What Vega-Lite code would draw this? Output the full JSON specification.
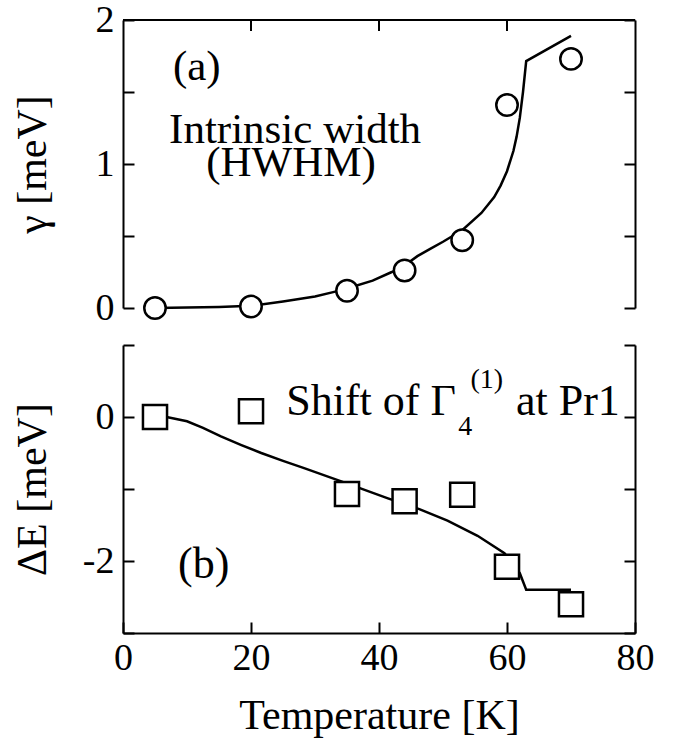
{
  "$schema": "https://vega.github.io/schema/vega-lite/v6.json",
  "padding": {"left": 10, "top": 1, "right": 5, "bottom": 5},
  "background": "white",
  "spacing": 37,
  "bounds": "flush",
  "config": {
    "view": {"stroke": null},
    "font": "Liberation Serif",
    "axis": {
      "grid": false,
      "domainColor": "black",
      "domainWidth": 2,
      "tickColor": "black",
      "tickWidth": 2,
      "tickSize": -11,
      "labelFont": "Liberation Serif",
      "labelFontSize": 38,
      "labelColor": "black",
      "labelFlush": false,
      "labelOverlap": false,
      "titleFont": "Liberation Serif",
      "titleFontSize": 42,
      "titleFontWeight": "normal",
      "titleColor": "black"
    }
  },
  "datasets": {
    "gammaFit": [
      {"T": 5, "v": 0.0},
      {"T": 10, "v": 0.003},
      {"T": 15, "v": 0.007},
      {"T": 20, "v": 0.015},
      {"T": 25, "v": 0.045},
      {"T": 30, "v": 0.08},
      {"T": 33, "v": 0.112},
      {"T": 35, "v": 0.135},
      {"T": 39, "v": 0.19},
      {"T": 42, "v": 0.25},
      {"T": 44, "v": 0.295},
      {"T": 46, "v": 0.36},
      {"T": 48, "v": 0.41},
      {"T": 50, "v": 0.46},
      {"T": 53, "v": 0.54},
      {"T": 56, "v": 0.66},
      {"T": 58, "v": 0.77},
      {"T": 59, "v": 0.85},
      {"T": 60, "v": 0.95},
      {"T": 61, "v": 1.09},
      {"T": 61.5, "v": 1.19},
      {"T": 62, "v": 1.32},
      {"T": 62.5, "v": 1.5},
      {"T": 63, "v": 1.715},
      {"T": 70, "v": 1.89}
    ],
    "gammaPts": [
      {"T": 5, "v": 0.0},
      {"T": 20, "v": 0.01},
      {"T": 35, "v": 0.12},
      {"T": 44, "v": 0.26},
      {"T": 53, "v": 0.47},
      {"T": 60, "v": 1.41},
      {"T": 70, "v": 1.73}
    ],
    "shiftFit": [
      {"T": 5, "v": 0.0},
      {"T": 7, "v": -0.005},
      {"T": 10, "v": -0.06},
      {"T": 12.5, "v": -0.15},
      {"T": 15.3, "v": -0.27},
      {"T": 18.5, "v": -0.39},
      {"T": 21.6, "v": -0.5},
      {"T": 25, "v": -0.61},
      {"T": 28.3, "v": -0.71},
      {"T": 34, "v": -0.89},
      {"T": 41.4, "v": -1.13},
      {"T": 46.3, "v": -1.28},
      {"T": 50.7, "v": -1.44},
      {"T": 55.4, "v": -1.65},
      {"T": 59.6, "v": -1.89},
      {"T": 62, "v": -2.17},
      {"T": 63, "v": -2.4},
      {"T": 70, "v": -2.4}
    ],
    "shiftPts": [
      {"T": 5, "v": 0.0},
      {"T": 20, "v": 0.08},
      {"T": 35, "v": -1.07},
      {"T": 44, "v": -1.17},
      {"T": 53, "v": -1.08},
      {"T": 60, "v": -2.08},
      {"T": 70, "v": -2.6}
    ],
    "topTicks": [
      {"T": 20},
      {"T": 40},
      {"T": 60}
    ],
    "topBorder": [
      {"T0": 0, "T1": 80, "v": 2}
    ],
    "labelsA": [
      {"x": 7.8, "y": 1.58, "text": "(a)"},
      {"x": 7.2, "y": 1.146, "text": "Intrinsic width"},
      {"x": 13.0, "y": 0.917, "text": "(HWHM)"}
    ],
    "labelsB": [
      {"x": 25.5, "y": 0.028, "text": "Shift of Γ"},
      {"x": 61.4, "y": 0.028, "text": "at Pr1"},
      {"x": 8.6, "y": -2.24, "text": "(b)"}
    ],
    "labelsBsmall": [
      {"x": 52.4, "y": -0.25, "text": "4"},
      {"x": 54.3, "y": 0.40, "text": "(1)"}
    ]
  },
  "vconcat": [
    {
      "width": 512,
      "height": 288,
      "resolve": {"axis": {"x": "independent", "y": "independent"}},
      "layer": [
        {
          "data": {"name": "gammaFit"},
          "mark": {"type": "line", "color": "black", "strokeWidth": 2.5},
          "encoding": {
            "x": {"field": "T", "type": "quantitative", "scale": {"domain": [0, 80]}, "axis": null},
            "y": {"field": "v", "type": "quantitative", "scale": {"domain": [0, 2]},
                  "axis": {"orient": "left", "values": [0, 0.5, 1, 1.5, 2], "labelExpr": "datum.value % 1 == 0 ? format(datum.value, 'd') : ''",
                           "labelPadding": 20, "title": "γ [meV]", "titleX": -78, "titleBaseline": "alphabetic"}}
          }
        },
        {
          "data": {"name": "gammaPts"},
          "mark": {"type": "point", "shape": "circle", "size": 460, "filled": false, "fill": "white", "fillOpacity": 1, "stroke": "black", "strokeWidth": 2.5, "opacity": 1},
          "encoding": {
            "x": {"field": "T", "type": "quantitative", "axis": null},
            "y": {"field": "v", "type": "quantitative",
                  "axis": {"orient": "right", "values": [0, 0.5, 1, 1.5, 2], "labels": false, "title": null}}
          }
        },
        {
          "data": {"name": "topBorder"},
          "mark": {"type": "rule", "color": "black", "strokeWidth": 2},
          "encoding": {
            "x": {"field": "T0", "type": "quantitative", "axis": null},
            "x2": {"field": "T1"},
            "y": {"field": "v", "type": "quantitative", "axis": null}
          }
        },
        {
          "data": {"name": "topTicks"},
          "mark": {"type": "rule", "color": "black", "strokeWidth": 2},
          "encoding": {
            "x": {"field": "T", "type": "quantitative", "axis": null},
            "y": {"datum": 2, "type": "quantitative", "axis": null},
            "y2": {"datum": 1.923}
          }
        },
        {
          "data": {"name": "labelsA"},
          "mark": {"type": "text", "align": "left", "baseline": "alphabetic", "font": "Liberation Serif", "fontSize": 43, "color": "black"},
          "encoding": {
            "x": {"field": "x", "type": "quantitative", "axis": null},
            "y": {"field": "y", "type": "quantitative", "axis": null},
            "text": {"field": "text"}
          }
        }
      ]
    },
    {
      "width": 512,
      "height": 288,
      "resolve": {"axis": {"x": "independent", "y": "independent"}},
      "layer": [
        {
          "data": {"name": "shiftFit"},
          "mark": {"type": "line", "color": "black", "strokeWidth": 2.5},
          "encoding": {
            "x": {"field": "T", "type": "quantitative", "scale": {"domain": [0, 80]},
                  "axis": {"orient": "bottom", "values": [0, 20, 40, 60, 80], "labelPadding": 17, "title": "Temperature [K]", "titleY": 95, "titleBaseline": "alphabetic"}},
            "y": {"field": "v", "type": "quantitative", "scale": {"domain": [-3, 1]},
                  "axis": {"orient": "left", "values": [-3, -2, -1, 0, 1], "labelExpr": "datum.value == 0 ? '0' : (datum.value == -2 ? '-2' : '')",
                           "labelPadding": 20, "title": "ΔE [meV]", "titleX": -78, "titleBaseline": "alphabetic"}}
          }
        },
        {
          "data": {"name": "shiftPts"},
          "mark": {"type": "point", "shape": "square", "size": 580, "filled": false, "fill": "white", "fillOpacity": 1, "stroke": "black", "strokeWidth": 2.5, "opacity": 1},
          "encoding": {
            "x": {"field": "T", "type": "quantitative", "axis": null},
            "y": {"field": "v", "type": "quantitative",
                  "axis": {"orient": "right", "values": [-3, -2, -1, 0, 1], "labels": false, "title": null}}
          }
        },
        {
          "data": {"name": "labelsB"},
          "mark": {"type": "text", "align": "left", "baseline": "alphabetic", "font": "Liberation Serif", "fontSize": 44, "color": "black"},
          "encoding": {
            "x": {"field": "x", "type": "quantitative", "axis": null},
            "y": {"field": "y", "type": "quantitative", "axis": null},
            "text": {"field": "text"}
          }
        },
        {
          "data": {"name": "labelsBsmall"},
          "mark": {"type": "text", "align": "left", "baseline": "alphabetic", "font": "Liberation Serif", "fontSize": 28, "color": "black"},
          "encoding": {
            "x": {"field": "x", "type": "quantitative", "axis": null},
            "y": {"field": "y", "type": "quantitative", "axis": null},
            "text": {"field": "text"}
          }
        }
      ]
    }
  ]
}
